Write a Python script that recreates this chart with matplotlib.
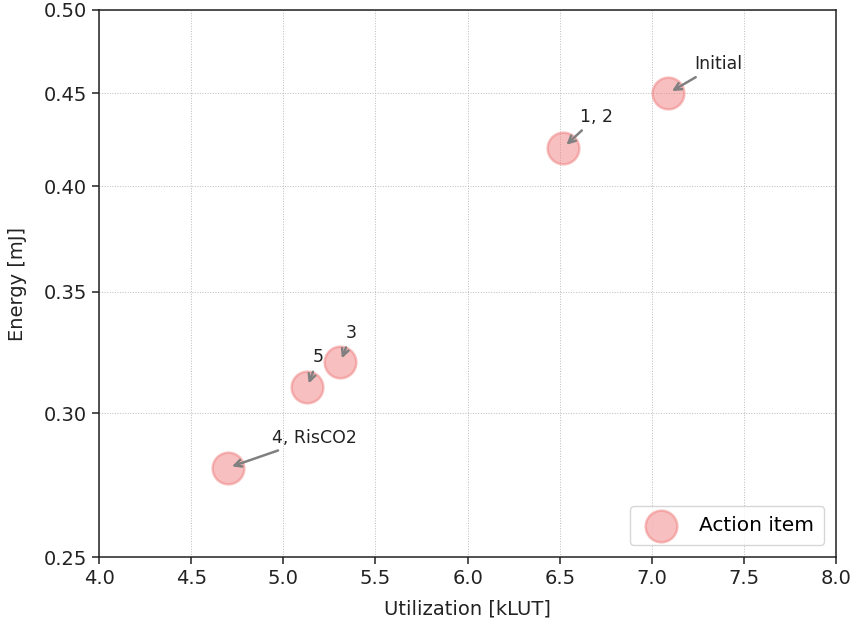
import matplotlib
matplotlib.use('Agg')
import matplotlib.pyplot as plt
from matplotlib.ticker import FixedLocator, FormatStrFormatter, NullLocator

# utilization (kLUT) and energy (mJ) of each design step
util = [7.09, 6.52, 5.31, 5.13, 4.70]
energy = [0.45, 0.42, 0.32, 0.31, 0.28]
labels = ['Initial', '1, 2', '3', '5', '4, RisCO2']
# where each label is written
label_pos = [(7.23, 0.464), (6.61, 0.434), (5.34, 0.330), (5.16, 0.320), (4.94, 0.289)]

yticks = [0.25, 0.30, 0.35, 0.40, 0.45, 0.50]
xticks = [4.0, 4.5, 5.0, 5.5, 6.0, 6.5, 7.0, 7.5, 8.0]

fig = plt.figure(figsize=(8.54, 6.24), dpi=100)
ax = fig.add_axes([0.116, 0.107, 0.863, 0.877])

ax.scatter(util, energy, s=520, color='lightcoral', alpha=0.5,
           edgecolors='lightcoral', linewidths=1.8, label='Action item', zorder=3)

for lab, x, y, pos in zip(labels, util, energy, label_pos):
    ax.annotate(lab, xy=(x, y), xytext=pos, fontsize=12.5, color='#222222',
                arrowprops=dict(arrowstyle='->', color='gray', lw=1.8, shrinkA=2, shrinkB=3))

ax.set_yscale('log')
ax.set_ylim(0.25, 0.50)
ax.set_xlim(4.0, 8.0)
ax.yaxis.set_major_locator(FixedLocator(yticks))
ax.yaxis.set_major_formatter(FormatStrFormatter('%.2f'))
ax.yaxis.set_minor_locator(NullLocator())
ax.set_xticks(xticks)
ax.grid(True, linestyle=':', linewidth=0.7, color='#bbbbbb')
ax.tick_params(labelsize=14, length=5, width=1.1, colors='#222222')
for sp in ax.spines.values():
    sp.set_linewidth(1.1)
    sp.set_color('#222222')

ax.set_xlabel('Utilization [kLUT]', fontsize=14, color='#222222', labelpad=8)
ax.set_ylabel('Energy [mJ]', fontsize=14, color='#222222', labelpad=12)
ax.legend(loc='lower right', fontsize=14.5, borderpad=0.5, handletextpad=0.9,
          borderaxespad=0.6)

fig.savefig('out.png', dpi=100)
